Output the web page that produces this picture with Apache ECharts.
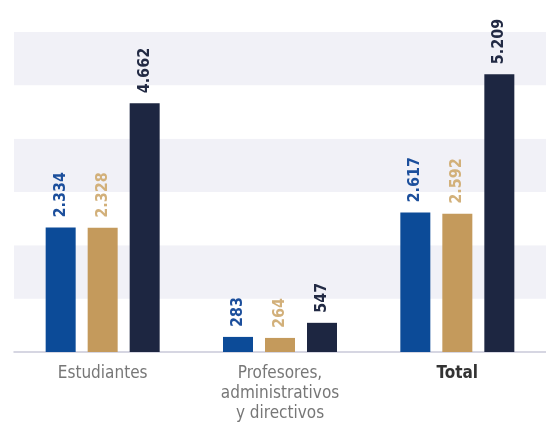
<!DOCTYPE html>
<html><head><meta charset="utf-8">
<style>html,body{margin:0;padding:0;background:#fff}#c{width:546px;height:439px}</style>
<script src="https://cdn.jsdelivr.net/npm/echarts@6/dist/echarts.min.js"></script>
</head><body><div id="c"></div>
<script>
const categories = ['Estudiantes', 'Profesores,\nadministrativos\ny directivos', 'Total'];
const seriesA = [2334, 283, 2617];
const seriesB = [2328, 264, 2592];
const seriesC = [4662, 547, 5209];
const yTicks = [0, 1000, 2000, 3000, 4000, 5000, 6000];

const fmt = v => String(v).replace(/\B(?=(\d{3})+(?!\d))/g, '.');
const FONT = '"DejaVu Sans Condensed", "Liberation Sans Narrow", sans-serif';

function bar(name, data, color, labelColor) {
  return {
    name, type: 'bar', data, barWidth: 30, barGap: '40%',
    itemStyle: { color },
    label: {
      show: true, position: 'top', rotate: 90, align: 'left', verticalAlign: 'middle',
      distance: 10, color: labelColor, fontFamily: FONT, fontWeight: 'bold', fontSize: 16,
      formatter: p => fmt(p.value)
    }
  };
}

const chart = echarts.init(document.getElementById('c'), null, { renderer: 'canvas' });
chart.setOption({
  animation: false,
  backgroundColor: '#fff',
  grid: { left: 14, top: 32, width: 540, height: 320, containLabel: false },
  xAxis: {
    type: 'category', data: categories,
    axisLine: { lineStyle: { color: '#c9c9d9', width: 1.5 } },
    axisTick: { show: false },
    axisLabel: {
      margin: 12, interval: 0, fontFamily: FONT, fontSize: 17, color: '#777', lineHeight: 20,
      formatter: v => v === 'Total' ? '{b|' + v + '}' : v,
      rich: { b: { fontFamily: FONT, fontSize: 17, fontWeight: 'bold', color: '#333' } }
    }
  },
  yAxis: {
    type: 'value', min: yTicks[0], max: yTicks[yTicks.length - 1], interval: 1000,
    axisLabel: { show: false }, axisLine: { show: false }, axisTick: { show: false },
    splitLine: { show: false },
    splitArea: { show: true, areaStyle: { color: ['#ffffff', '#f1f1f7'] } }
  },
  series: [
    bar('A', seriesA, '#0c4b98', '#1c4f9c'),
    bar('B', seriesB, '#c49a5c', '#d2b07a'),
    bar('C', seriesC, '#1d2641', '#222a44')
  ]
});
</script></body></html>
